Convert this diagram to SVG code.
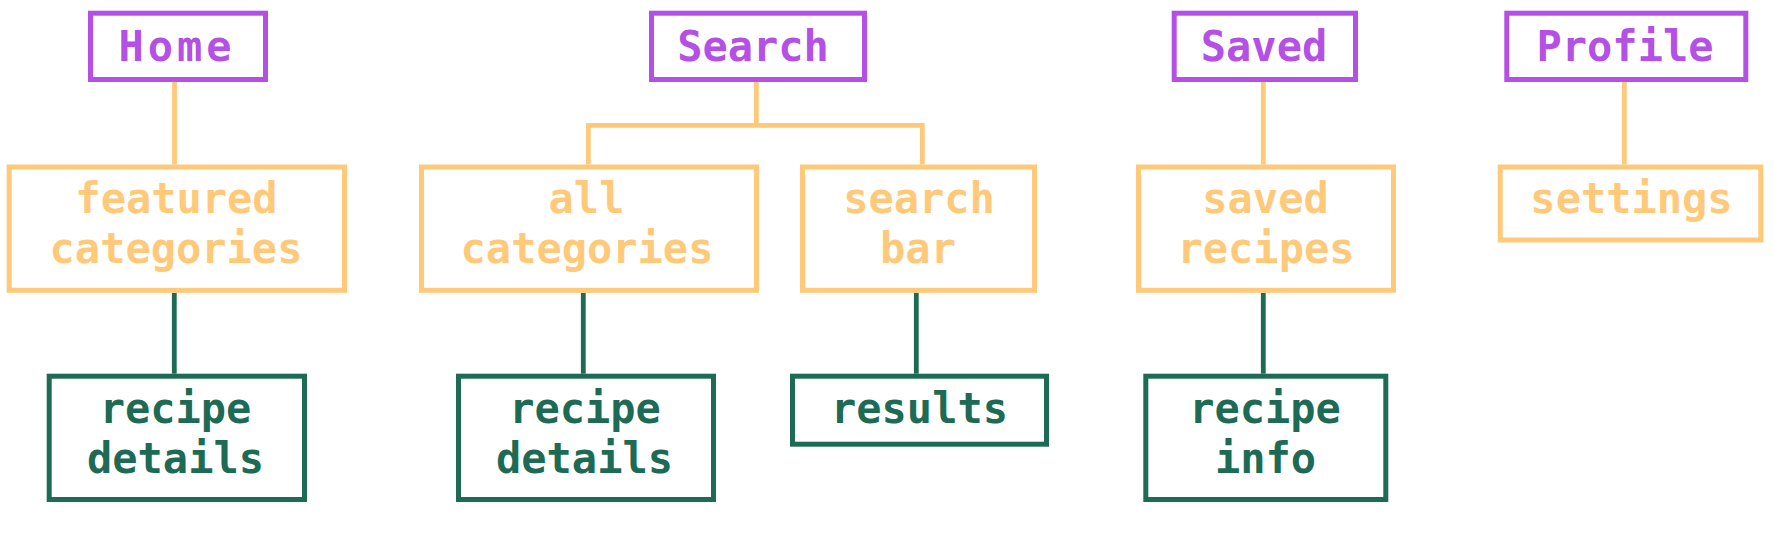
<svg xmlns="http://www.w3.org/2000/svg" width="1773" height="534" viewBox="0 0 1773 534">
<style>
rect{fill:#ffffff;stroke-width:5}
.p rect{stroke:#b550e6}
.o rect{stroke:#ffc97a}
.g rect{stroke:#1d6b55}
text{font-family:"DejaVu Sans Mono","Liberation Mono",monospace;font-weight:bold;font-size:42px;text-anchor:middle}
.p text{fill:#b550e6}
.o text{fill:#ffc97a}
.g text{fill:#1d6b55}
#connectors path{fill:none;stroke-width:4.8}
#connectors .co{stroke:#ffc97a}
#connectors .cg{stroke:#1d6b55}
</style>
<rect x="0" y="0" width="1773" height="534" style="fill:#ffffff;stroke:none"/>
<g id="connectors">
<path class="co" d="M174.5 82V164.5"/>
<path class="co" d="M756.3 82V125.3"/>
<path class="co" d="M588.3 164.5V125.3H922.3V164.5"/>
<path class="co" d="M1263.3 82V164.5"/>
<path class="co" d="M1624.3 82V164.5"/>
<path class="cg" d="M174.3 292.8V373.7"/>
<path class="cg" d="M583.3 292.8V373.7"/>
<path class="cg" d="M916.3 292.8V373.7"/>
<path class="cg" d="M1263.3 292.8V373.7"/>
</g>
<g id="home" class="p"><rect x="90.5" y="13.2" width="175" height="66.3"/><text x="177" y="61" letter-spacing="4">Home</text></g>
<g id="search" class="p"><rect x="651.5" y="13.2" width="213" height="66.3"/><text x="753" y="61">Search</text></g>
<g id="saved" class="p"><rect x="1174.2" y="13.2" width="181.3" height="66.3"/><text x="1264" y="61">Saved</text></g>
<g id="profile" class="p"><rect x="1506.8" y="13.2" width="239" height="66.3"/><text x="1625" y="61">Profile</text></g>
<g id="featured-categories" class="o"><rect x="9.2" y="167" width="335.3" height="123.3"/><text x="176.5" y="213">featured</text><text x="176" y="263">categories</text></g>
<g id="all-categories" class="o"><rect x="421.5" y="167" width="335" height="123.3"/><text x="586.5" y="213">all</text><text x="587" y="263">categories</text></g>
<g id="search-bar" class="o"><rect x="802.5" y="167" width="232" height="123.3"/><text x="919" y="213">search</text><text x="918" y="263">bar</text></g>
<g id="saved-recipes" class="o"><rect x="1138.5" y="167" width="255" height="123.3"/><text x="1265.5" y="213">saved</text><text x="1266" y="263">recipes</text></g>
<g id="settings" class="o"><rect x="1500.2" y="167" width="260.6" height="73"/><text x="1631.5" y="213">settings</text></g>
<g id="recipe-details-1" class="g"><rect x="49.2" y="376.2" width="255.3" height="123.3"/><text x="175.5" y="423">recipe</text><text x="175.5" y="473">details</text></g>
<g id="recipe-details-2" class="g"><rect x="458.5" y="376.2" width="255" height="123.3"/><text x="585" y="423">recipe</text><text x="584.5" y="473">details</text></g>
<g id="results" class="g"><rect x="792.5" y="376.2" width="254" height="68"/><text x="919.5" y="423">results</text></g>
<g id="recipe-info" class="g"><rect x="1145.8" y="376.2" width="240" height="123.3"/><text x="1265" y="423">recipe</text><text x="1265.5" y="473">info</text></g>
</svg>
